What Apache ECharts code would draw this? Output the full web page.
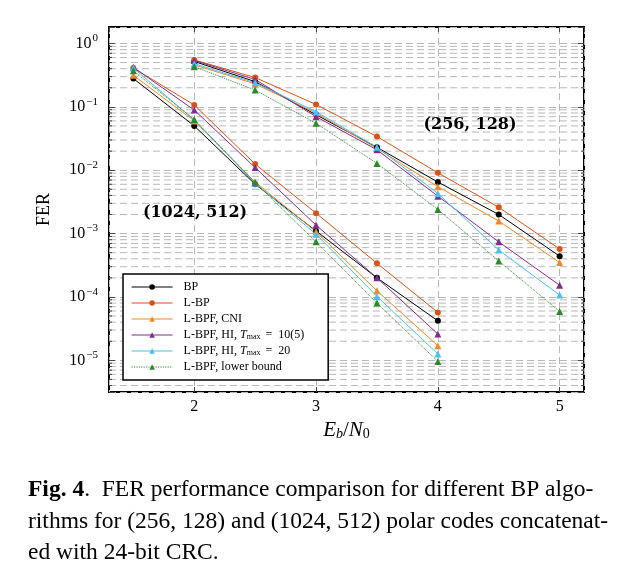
<!DOCTYPE html>
<html>
<head>
<meta charset="utf-8">
<script src="https://cdn.jsdelivr.net/npm/echarts@6/dist/echarts.min.js"></script>
<style>
  html, body { margin: 0; padding: 0; background: #fff; }
  #chart { width: 640px; height: 579px; }
</style>
</head>
<body>
<div id="chart"></div>
<script>
// Eb/N0 points for each code
const ebn0Long = [1.5, 2, 2.5, 3, 3.5, 4];        // (1024, 512)
const ebn0Short = [2, 2.5, 3, 3.5, 4, 4.5, 5];    // (256, 128)

// (1024, 512) FER
const bpLong   = [0.28, 0.050, 0.0060, 0.00110, 2.0e-4, 4.2e-5];
const lbpLong  = [0.41, 0.107, 0.0125, 0.00210, 3.4e-4, 5.7e-5];
const cniLong  = [0.315, 0.060, 0.0065, 0.00107, 1.25e-4, 1.7e-5];
const hi10Long = [0.42, 0.089, 0.0110, 0.00136, 2.0e-4, 2.6e-5];
const hi20Long = [0.41, 0.062, 0.0062, 0.00098, 1.02e-4, 1.26e-5];
const lbLong   = [0.37, 0.063, 0.0064, 0.00074, 8.0e-5, 9.6e-6];

// (256, 128) FER
const bpShort   = [0.52, 0.25, 0.075, 0.023, 0.0065, 0.0020, 4.4e-4];
const lbpShort  = [0.55, 0.29, 0.109, 0.034, 0.0091, 0.0026, 5.7e-4];
const cniShort  = [0.46, 0.23, 0.080, 0.022, 0.0055, 0.00158, 3.5e-4];
const hi10Short = [0.54, 0.27, 0.070, 0.021, 0.0039, 7.4e-4, 1.53e-4];
const hi20Short = [0.48, 0.24, 0.084, 0.023, 0.0043, 5.5e-4, 1.07e-4];
const lbShort   = [0.43, 0.184, 0.055, 0.0128, 0.0024, 3.7e-4, 5.9e-5];

const legendNames = ['BP', 'L-BP', 'L-BPF, CNI', 'L-BPF, HI, Tmax = 10(5)', 'L-BPF, HI, Tmax = 20', 'L-BPF, lower bound'];

// log axis minor grid levels
const minorMantissas = [2, 3, 4, 5, 6, 7, 8, 9];
const decades = [-6, -5, -4, -3, -2, -1, 0];

const X_MIN = 1.3, X_MAX = 5.2;
const Y_MIN = Math.pow(10, -5.5), Y_MAX = Math.pow(10, 0.26);

const SERIF = '"Liberation Serif", "DejaVu Serif", serif';
const GRID_GRAY = '#b8b8b8';

const curves = [
  { name: legendNames[0], color: '#000000', symbol: 'circle',   size: 6, long: bpLong,   short: bpShort },
  { name: legendNames[1], color: '#d95319', symbol: 'circle',   size: 6, long: lbpLong,  short: lbpShort },
  { name: legendNames[2], color: '#f0892a', symbol: 'triangle', size: 7, long: cniLong,  short: cniShort },
  { name: legendNames[3], color: '#7e2f8e', symbol: 'triangle', size: 7, long: hi10Long, short: hi10Short },
  { name: legendNames[4], color: '#4dbeee', symbol: 'triangle', size: 7, long: hi20Long, short: hi20Short },
  { name: legendNames[5], color: '#2a8a2a', symbol: 'triangle', size: 7, long: lbLong,   short: lbShort, dotted: true }
];

const minorLevels = [];
decades.forEach(e => minorMantissas.forEach(m => {
  const v = m * Math.pow(10, e);
  if (v > Y_MIN && v < Y_MAX) minorLevels.push(v);
}));

const series = [];
// minor grid lines + inner minor ticks on both sides
series.push({
  type: 'custom',
  silent: true,
  z: 1,
  data: minorLevels.map(v => [X_MIN, v]),
  encode: { x: 0, y: 1 },
  renderItem: function (params, api) {
    const cs = params.coordSys;
    const y = api.coord([X_MIN, api.value(1)])[1];
    return {
      type: 'group',
      children: [
        { type: 'line', shape: { x1: cs.x, y1: y, x2: cs.x + cs.width, y2: y },
          style: { stroke: GRID_GRAY, lineWidth: 1, lineDash: [7, 4] } },
        { type: 'line', shape: { x1: cs.x, y1: y, x2: cs.x + 3, y2: y },
          style: { stroke: '#444', lineWidth: 1 } },
        { type: 'line', shape: { x1: cs.x + cs.width - 3, y1: y, x2: cs.x + cs.width, y2: y },
          style: { stroke: '#444', lineWidth: 1 } }
      ]
    };
  }
});

curves.forEach(c => {
  [[ebn0Long, c.long], [ebn0Short, c.short]].forEach(([xs, ys]) => {
    series.push({
      name: c.name,
      type: 'line',
      z: 3,
      data: xs.map((x, i) => [x, ys[i]]),
      symbol: c.symbol,
      symbolSize: c.size,
      itemStyle: { color: c.color },
      lineStyle: { color: c.color, width: 1, type: c.dotted ? 'dotted' : 'solid' }
    });
  });
});

const chart = echarts.init(document.getElementById('chart'));
chart.setOption({
  animation: false,
  backgroundColor: '#fff',
  grid: {
    left: 109, top: 27, right: 56, bottom: 187,
    show: true, borderColor: '#000', borderWidth: 2,
    containLabel: false, outerBoundsMode: 'none'
  },
  legend: {
    data: legendNames,
    orient: 'vertical',
    left: 123, top: 274,
    backgroundColor: '#fff',
    borderColor: '#000', borderWidth: 1.5, borderRadius: 0,
    padding: [7, 24, 7, 8],
    itemWidth: 41, itemHeight: 7, itemGap: 4,
    lineStyle: { width: 1.2, type: 'inherit', color: 'inherit' },
    textStyle: {
      fontFamily: SERIF, fontSize: 12, color: '#000', lineHeight: 11,
      padding: [0, 0, 0, 6],
      rich: {
        i: { fontFamily: SERIF, fontSize: 12, fontStyle: 'italic', lineHeight: 11 },
        s: { fontFamily: SERIF, fontSize: 8, lineHeight: 8, padding: [3, 2, 0, 0] }
      }
    },
    formatter: name => name.replace('Tmax = ', '{i|T}{s|max}=  ').replace('=  ', ' =  ')
  },
  xAxis: [{
    type: 'value', min: X_MIN, max: X_MAX,
    name: '{i|E}{si|b}{n|/}{i|N}{s|0}',
    nameLocation: 'middle', nameGap: 20,
    nameTextStyle: {
      rich: {
        i: { fontFamily: SERIF, fontSize: 21, fontStyle: 'italic', color: '#000' },
        n: { fontFamily: SERIF, fontSize: 21, color: '#000' },
        si: { fontFamily: SERIF, fontSize: 14, fontStyle: 'italic', color: '#000', padding: [8, 0, 0, 0] },
        s: { fontFamily: SERIF, fontSize: 14, color: '#000', padding: [8, 0, 0, 0] }
      }
    },
    axisLine: { show: false },
    axisTick: { inside: true, length: 5, lineStyle: { color: '#444' } },
    axisLabel: { fontFamily: SERIF, fontSize: 16, color: '#000', margin: 7, showMinLabel: false, showMaxLabel: false },
    splitLine: { show: true, lineStyle: { color: GRID_GRAY, type: [7, 4], width: 1 } }
  }, {
    type: 'value', min: X_MIN, max: X_MAX, position: 'top',
    axisLine: { show: false },
    axisTick: { inside: true, length: 5, lineStyle: { color: '#444' } },
    axisLabel: { show: false },
    splitLine: { show: false }
  }],
  yAxis: [{
    type: 'log', logBase: 10, min: Y_MIN, max: Y_MAX,
    name: 'FER', nameLocation: 'middle', nameGap: 56,
    nameTextStyle: { fontFamily: SERIF, fontSize: 18, color: '#000' },
    axisLine: { show: false },
    axisTick: { inside: true, length: 6, lineStyle: { color: '#444' } },
    axisLabel: {
      margin: 11,
      formatter: v => {
        const l = Math.log10(v), e = Math.round(l);
        if (Math.abs(l - e) > 1e-6) return '';
        return '{b|10}{e|' + (e === 0 ? '0' : '\u2212' + (-e)) + '}';
      },
      rich: {
        b: { fontFamily: SERIF, fontSize: 16, color: '#000' },
        e: { fontFamily: SERIF, fontSize: 11, color: '#000', padding: [0, 0, 10, 1] }
      }
    },
    splitLine: { show: true, lineStyle: { color: GRID_GRAY, type: [7, 4], width: 1 } }
  }, {
    type: 'log', logBase: 10, min: Y_MIN, max: Y_MAX, position: 'right',
    axisLine: { show: false },
    axisTick: { inside: true, length: 6, lineStyle: { color: '#444' } },
    axisLabel: { show: false },
    splitLine: { show: false }
  }],
  graphic: [
    { type: 'text', x: 195, y: 213, z: 10,
      style: { text: '(1024, 512)', font: 'bold 16px "DejaVu Serif"', fill: '#000', align: 'center', verticalAlign: 'middle' } },
    { type: 'text', x: 470, y: 125, z: 10,
      style: { text: '(256, 128)', font: 'bold 16px "DejaVu Serif"', fill: '#000', align: 'center', verticalAlign: 'middle' } },
    { type: 'text', x: 28, y: 490,
      style: { text: '{b|Fig. 4}.  FER performance comparison for different BP algo-',
        font: '23.5px "Liberation Serif"', fill: '#000', verticalAlign: 'middle',
        rich: { b: { font: 'bold 23.5px "Liberation Serif"', fill: '#000' } } } },
    { type: 'text', x: 28, y: 522,
      style: { text: 'rithms for (256, 128) and (1024, 512) polar codes concatenat-',
        font: '23.5px "Liberation Serif"', fill: '#000', verticalAlign: 'middle' } },
    { type: 'text', x: 28, y: 553,
      style: { text: 'ed with 24-bit CRC.',
        font: '23.5px "Liberation Serif"', fill: '#000', verticalAlign: 'middle' } }
  ],
  series: series
});
</script>
</body>
</html>
